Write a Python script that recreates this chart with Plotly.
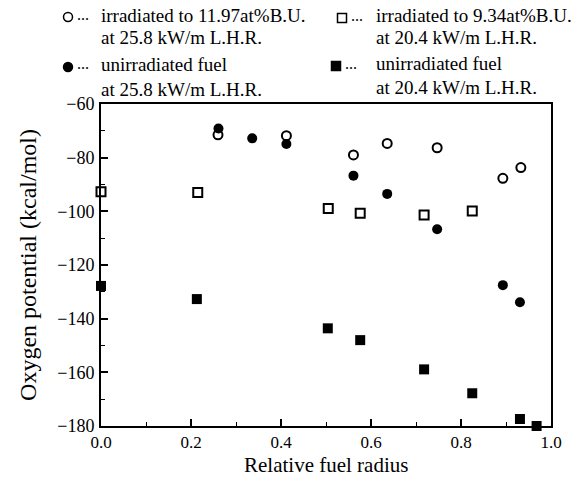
import plotly.graph_objects as go

# Data
irr_hi_x = [0.26, 0.412, 0.561, 0.636, 0.747, 0.893, 0.933]
irr_hi_y = [-71.5, -71.8, -79.0, -74.7, -76.3, -87.7, -83.7]

unirr_hi_x = [0.261, 0.336, 0.412, 0.561, 0.636, 0.747, 0.893, 0.931]
unirr_hi_y = [-69.1, -72.8, -74.9, -86.7, -93.5, -106.7, -127.5, -133.9]

irr_lo_x = [0.0, 0.215, 0.505, 0.576, 0.718, 0.825]
irr_lo_y = [-92.7, -93.0, -98.9, -100.7, -101.4, -99.9]

unirr_lo_x = [0.0, 0.213, 0.504, 0.576, 0.718, 0.825, 0.931, 0.968]
unirr_lo_y = [-127.8, -132.7, -143.6, -148.0, -158.9, -167.8, -177.4, -180.0]

x_ticks = [0.0, 0.2, 0.4, 0.6, 0.8, 1.0]
x_tick_labels = ["0.0", "0.2", "0.4", "0.6", "0.8", "1.0"]
y_ticks = [-60, -80, -100, -120, -140, -160, -180]

FONT = "Liberation Serif"
W, H = 575, 479
ML, MR, MT, MB = 101, 24, 104, 53
PW, PH = W - ML - MR, H - MT - MB

fig = go.Figure()
common = dict(mode="markers", showlegend=False, cliponaxis=False, hoverinfo="skip")
fig.add_trace(go.Scatter(x=irr_hi_x, y=irr_hi_y, marker=dict(symbol="circle-open", size=9, color="black", line=dict(width=2)), **common))
fig.add_trace(go.Scatter(x=unirr_hi_x, y=unirr_hi_y, marker=dict(symbol="circle", size=10, color="black"), **common))
fig.add_trace(go.Scatter(x=irr_lo_x, y=irr_lo_y, marker=dict(symbol="square-open", size=9, color="black", line=dict(width=2)), **common))
fig.add_trace(go.Scatter(x=unirr_lo_x, y=unirr_lo_y, marker=dict(symbol="square", size=10, color="black"), **common))

axis_common = dict(
    showline=True, linecolor="black", linewidth=2, mirror=True,
    ticks="inside", ticklen=7, tickwidth=1.5, tickcolor="black",
    showgrid=False, zeroline=False, automargin=False,
    tickfont=dict(family=FONT, size=18, color="black"),
)
fig.update_xaxes(range=[0, 1.0], tickvals=x_ticks, ticktext=x_tick_labels,
                 ticklabelstandoff=0, tickfont=dict(family=FONT, size=17, color="black"),
                 minor=dict(ticks="inside", ticklen=4, dtick=0.1, tickcolor="black", tickwidth=1),
                 **{k: v for k, v in axis_common.items() if k != "tickfont"})
fig.update_yaxes(range=[-180, -60], tickvals=y_ticks,
                 ticklabelstandoff=1,
                 minor=dict(ticks="inside", ticklen=4, dtick=10, tickcolor="black", tickwidth=1),
                 title=dict(text="Oxygen potential (kcal/mol)", font=dict(family=FONT, size=24, color="black"), standoff=14),
                 **axis_common)

# paper coords are relative to the plot area
def px(xp):
    return (xp - ML) / PW
def py(yp):
    return (MT + PH - yp) / PH

shapes = []
annotations = []
LEG_FONT = 19
sym_specs = [
    (68, 17, "circle", False, 99, 16, 38, "irradiated to 11.97at%B.U.", "at 25.8 kW/m L.H.R."),
    (68, 67, "circle", True, 99, 65, 89, "unirradiated fuel", "at 25.8 kW/m L.H.R."),
    (342, 18, "rect", False, 374, 16, 38, "irradiated to 9.34at%B.U.", "at 20.4 kW/m L.H.R."),
    (336, 66, "rect", True, 374, 64, 88, "unirradiated fuel", "at 20.4 kW/m L.H.R."),
]
for (cx, cy, kind, filled, tx, ty1, ty2, l1, l2) in sym_specs:
    r = 4.5
    shapes.append(dict(type=kind, xref="paper", yref="paper",
                       x0=px(cx - r), x1=px(cx + r), y0=py(cy + r), y1=py(cy - r),
                       line=dict(color="black", width=1.5),
                       fillcolor="black" if filled else "white"))
    annotations.append(dict(xref="paper", yref="paper", x=px(cx + 7), y=py(cy - 3), text="...",
                            showarrow=False, xanchor="left", yanchor="middle",
                            font=dict(family=FONT, size=16, color="black")))
    annotations.append(dict(xref="paper", yref="paper", x=px(tx), y=py(ty1), text=l1,
                            showarrow=False, xanchor="left", yanchor="middle",
                            font=dict(family=FONT, size=LEG_FONT, color="black")))
    annotations.append(dict(xref="paper", yref="paper", x=px(tx), y=py(ty2), text=l2,
                            showarrow=False, xanchor="left", yanchor="middle",
                            font=dict(family=FONT, size=LEG_FONT, color="black")))

# x-axis title
annotations.append(dict(xref="paper", yref="paper", x=0.5, y=py(479), text="Relative fuel radius",
                        showarrow=False, xanchor="center", yanchor="bottom",
                        font=dict(family=FONT, size=21, color="black")))

fig.update_layout(
    width=W, height=H,
    margin=dict(l=ML, r=MR, t=MT, b=MB),
    paper_bgcolor="white", plot_bgcolor="white",
    font=dict(family=FONT, color="black"),
    shapes=shapes, annotations=annotations,
)
fig.write_html("out.html", config={"displayModeBar": False},
               post_script="document.body.style.margin='0';document.body.style.overflow='hidden';")
